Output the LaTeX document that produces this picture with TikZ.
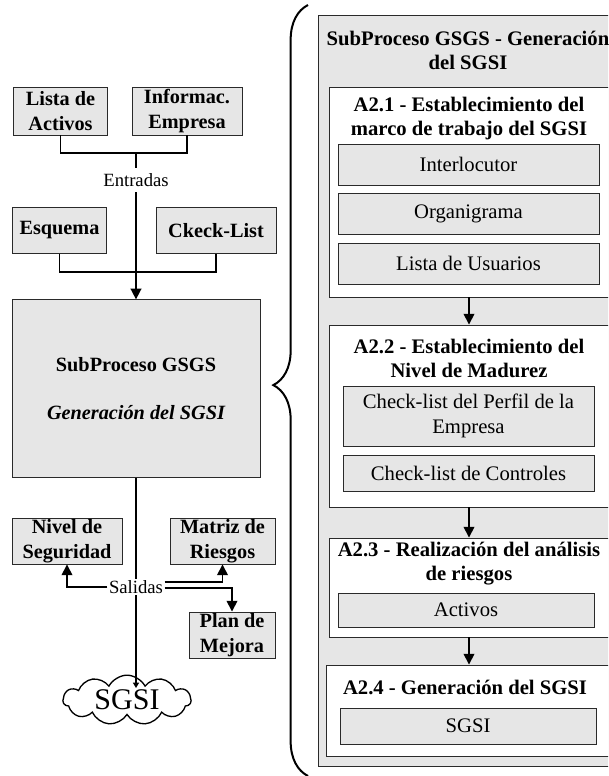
\documentclass[tikz,border=0pt]{standalone}
\usepackage{fontspec}
\setmainfont{Liberation Serif}
\usetikzlibrary{arrows.meta, positioning, shapes.symbols, fit, calc, decorations.pathreplacing}
\definecolor{boxgray}{HTML}{E6E6E6}
\definecolor{edge}{HTML}{2A2A2A}

\begin{document}
\begin{tikzpicture}[x=0.75pt, y=-0.75pt,
    cell/.style={draw=edge, fill=boxgray, line width=0.7pt, inner sep=0pt, align=center,
                 font=\fontsize{15.2}{18.5}\selectfont\bfseries},
    item/.style={draw=edge, fill=boxgray, line width=0.7pt, inner sep=0pt, align=center,
                 font=\fontsize{15.5}{18.5}\selectfont},
    frame/.style={draw=edge, fill=#1, line width=0.7pt, inner sep=0pt},
    head/.style={align=center, inner sep=0pt, font=\fontsize{15.5}{18}\selectfont\bfseries},
    tag/.style={fill=white, inner xsep=1pt, inner ysep=#1, font=\fontsize{14}{16}\selectfont},
    arr/.style={-{Triangle[length=8pt, width=8pt]}, line width=1.2pt},
    wire/.style={line width=1.2pt},
]
    \path[use as bounding box] (0,0) rectangle (608,776);
    \clip (0,0) rectangle (608,776);

    % inputs
    \node[cell, minimum width=71pt, minimum height=36pt] (lista) at (60.5,111) {Lista de\\Activos};
    \node[cell, minimum width=82.5pt, minimum height=36pt] (informac) at (187,111) {Informac.\\Empresa};
    \node[cell, minimum width=71pt, minimum height=35pt] (esquema) at (59.5,230.5) {Esquema};
    \node[cell, minimum width=90pt, minimum height=35pt] (ckeck) at (216,230.5) {Ckeck-List};
    \node[cell, minimum width=186pt, minimum height=133pt] (gsgs) at (136,388.5)
        {SubProceso GSGS\\[17pt]\itshape Generación del SGSI};
    \coordinate (entA) at (136,153);
    \coordinate (entB) at (136,272);
    \draw[wire] (lista.south) |- (entA) -| (informac.south);
    \draw[wire] (esquema.south) |- (entB) -| (ckeck.south);
    \draw[arr] (entA) -- (gsgs.north);
    \node[tag=4pt] (entradas) at (136,180) {Entradas};

    % outputs
    \node[cell, minimum width=82.5pt, minimum height=34.5pt] (nivel) at (67,541) {Nivel de\\Seguridad};
    \node[cell, minimum width=78.75pt, minimum height=34.5pt] (matriz) at (222.5,541) {Matriz de\\Riesgos};
    \node[cell, minimum width=64.5pt, minimum height=34.5pt] (plan) at (232,635) {Plan de\\Mejora};
    \node[cloud, cloud puffs=11, cloud puff arc=125, aspect=2.6, draw, line width=1pt, fill=white, inner sep=0pt,
          minimum width=96pt, minimum height=34pt, font=\fontsize{22.5}{26}\selectfont] (nube) at (127,700) {SGSI};
    \coordinate (fin) at (136,688);
    \draw[line width=1.2pt, -{Triangle[length=4pt, width=4.5pt]}] (gsgs.south) -- (fin);
    \node[tag=1pt] (salidas) at (136,587) {Salidas};
    \draw[arr] (salidas.west) -| (nivel.south);
    \draw[arr] ($(salidas.east)+(0,-5)$) -| (matriz.south);
    \draw[arr] ($(salidas.east)+(0,1)$) -| (plan.north);

    % brace towards the detail
    \coordinate (llaveA) at (308,776);
    \coordinate (llaveB) at (308,5);
    \draw[line width=1.5pt, decorate, decoration={brace, amplitude=26pt, aspect=0.507}] (llaveA) -- (llaveB);

    % detail of the subprocess
    \node[frame=boxgray, fit={(318,15) (619,766)}] (outer) {};
    \node[head] (outerhead) at (468,50) {SubProceso GSGS - Generación\\del SGSI};

    % A2.1
    \node[frame=white, fit={(329,87) (609,297)}] (a21) {};
    \node[head] (t21) at (469,119) {A2.1 - Establecimiento del\\marco de trabajo del SGSI};
    \node[item, minimum width=195.75pt, minimum height=30.75pt] (interlocutor) at (468.5,164.5) {Interlocutor};
    \node[item, minimum width=195.75pt, minimum height=30.75pt] (organigrama) at (468.5,213.5) {Organigrama};
    \node[item, minimum width=195.75pt, minimum height=30.75pt] (usuarios) at (468.5,263.5) {Lista de Usuarios};

    % A2.2
    \node[frame=white, fit={(329,325) (609,507)}] (a22) {};
    \node[head] (t22) at (469,358) {A2.2 - Establecimiento del\\Nivel de Madurez};
    \node[item, minimum width=188.25pt, minimum height=45pt] (perfil) at (468.5,416) {Check-list del Perfil de la\\Empresa};
    \node[item, minimum width=188.25pt, minimum height=27pt] (controles) at (468.5,473) {Check-list de Controles};

    % A2.3
    \node[frame=white, fit={(329,538) (609,637)}] (a23) {};
    \node[head] (t23) at (469,564) {A2.3 - Realización del análisis\\de riesgos};
    \node[item, minimum width=192pt, minimum height=25.5pt] (activos) at (466,610) {Activos};

    % A2.4
    \node[frame=white, fit={(326,665) (609,756)}] (a24) {};
    \node[head] (t24) at (465,687) {A2.4 - Generación del SGSI};
    \node[item, minimum width=192pt, minimum height=27pt] (sgsi) at (468,726) {SGSI};

    \draw[arr] (a21.south) -- (a22.north);
    \draw[arr] (a22.south) -- (a23.north);
    \draw[arr] (a23.south) -- (a23.south |- a24.north);
\end{tikzpicture}
\end{document}
